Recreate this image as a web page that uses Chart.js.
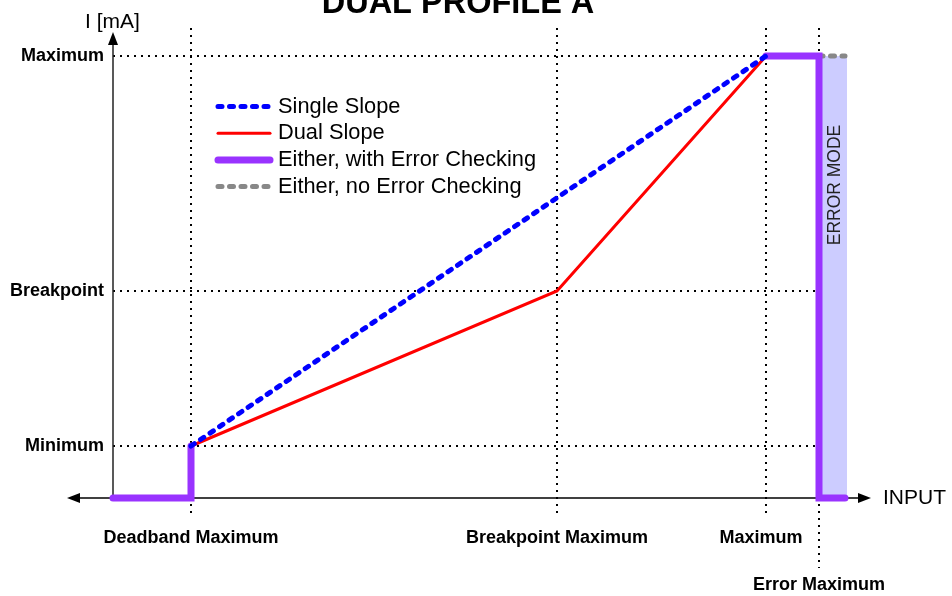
<!DOCTYPE html>
<html>
<head>
<meta charset="utf-8">
<script src="https://cdn.jsdelivr.net/npm/chart.js@4"></script>
<style>
  body { margin: 0; background: #fff; }
</style>
</head>
<body>
<canvas id="myChart" width="952" height="596"></canvas>
<script>
// input axis marks (x) and current axis marks (y)
const inputLabels = ['Deadband Maximum', 'Breakpoint Maximum', 'Maximum', 'Error Maximum'];
const inputValues = [7.8, 44.4, 65.3, 70.6];
const currentLabels = ['Minimum', 'Breakpoint', 'Maximum'];
const currentValues = [5.2, 20.7, 44.2];
const inputEnd = 73.2;

// series
const singleSlope = [{ x: 7.8, y: 5.2 }, { x: 65.3, y: 44.2 }];
const dualSlope = [{ x: 7.8, y: 5.2 }, { x: 44.4, y: 20.7 }, { x: 65.3, y: 44.2 }];
const withErrorCheck = [
  { x: 0, y: 0 }, { x: 7.8, y: 0 }, { x: 7.8, y: 5.2 },
  { x: 36, y: null },
  { x: 65.3, y: 44.2 }, { x: 70.6, y: 44.2 }, { x: 70.6, y: 0 }, { x: 73.2, y: 0 }
];
const noErrorCheck = [{ x: 70.6, y: 44.2 }, { x: 73.2, y: 44.2 }];
const errorMode = [{ x: 70.6, y: 44.2 }, { x: 73.4, y: 44.2 }];

const FONT = '"Liberation Sans", Arial, sans-serif';

function arrow(ctx, tx, ty, dx, dy) {
  // filled arrowhead, tip at (tx,ty), pointing along (dx,dy)
  const len = 13, half = 5;
  const bx = tx - dx * len, by = ty - dy * len;
  ctx.beginPath();
  ctx.moveTo(tx, ty);
  ctx.lineTo(bx - dy * half, by + dx * half);
  ctx.lineTo(bx + dy * half, by - dx * half);
  ctx.closePath();
  ctx.fill();
}

const diagram = {
  id: 'diagram',
  beforeDatasetsDraw(chart) {
    const { ctx, scales: { x, y } } = chart;
    ctx.save();
    // dotted guides
    ctx.strokeStyle = '#000';
    ctx.lineWidth = 2;
    ctx.setLineDash([2, 5]);
    inputValues.forEach((v, i) => {
      const px = Math.round(x.getPixelForValue(v));
      ctx.beginPath();
      ctx.moveTo(px, y.getPixelForValue(47));
      ctx.lineTo(px, y.getPixelForValue(i == 3 ? -7 : -1.6));
      ctx.stroke();
    });
    currentValues.forEach((v, i) => {
      const py = Math.round(y.getPixelForValue(v));
      const end = i == 2 ? inputValues[2] : inputEnd;
      ctx.beginPath();
      ctx.moveTo(x.getPixelForValue(0), py);
      ctx.lineTo(x.getPixelForValue(end), py);
      ctx.stroke();
    });
    ctx.setLineDash([]);

    // axes with arrows
    const y0 = y.getPixelForValue(0);
    const x0 = x.getPixelForValue(0);
    ctx.lineWidth = 1.5;
    ctx.strokeStyle = '#000';
    ctx.fillStyle = '#000';
    ctx.beginPath();
    ctx.moveTo(x.left + 8, y0);
    ctx.lineTo(x.right - 8, y0);
    ctx.stroke();
    arrow(ctx, x.left, y0, -1, 0);
    arrow(ctx, x.right, y0, 1, 0);
    ctx.strokeStyle = '#222';
    ctx.beginPath();
    ctx.moveTo(x0, y0);
    ctx.lineTo(x0, y.top + 8);
    ctx.stroke();
    arrow(ctx, x0, y.top, 0, -1);
    ctx.restore();
  },
  afterDraw(chart) {
    const { ctx, scales: { x, y } } = chart;
    ctx.save();
    ctx.fillStyle = '#000';

    // title
    ctx.font = 'bold 32.5px ' + FONT;
    ctx.textAlign = 'center';
    ctx.textBaseline = 'alphabetic';
    ctx.fillText('DUAL PROFILE A', 458, 13);

    // axis names
    ctx.font = '21px ' + FONT;
    ctx.textAlign = 'left';
    ctx.fillText('I [mA]', 85, 28);
    ctx.textBaseline = 'middle';
    ctx.fillText('INPUT', 883, y.getPixelForValue(0));

    // current tick labels
    ctx.font = 'bold 18px ' + FONT;
    ctx.textAlign = 'right';
    currentLabels.forEach((t, i) => {
      ctx.fillText(t, x.getPixelForValue(0) - 9, y.getPixelForValue(currentValues[i]));
    });

    // input tick labels
    ctx.textAlign = 'center';
    inputLabels.forEach((t, i) => {
      const px = x.getPixelForValue(inputValues[i]) - (i == 2 ? 5 : 0);
      ctx.fillText(t, px, i == 3 ? 585 : 538);
    });

    // error mode band label
    ctx.font = '17.5px ' + FONT;
    ctx.fillStyle = '#222';
    ctx.translate(835, y.getPixelForValue(31.3));
    ctx.rotate(-Math.PI / 2);
    ctx.fillText('ERROR MODE', 0, 0);
    ctx.setTransform(1, 0, 0, 1, 0, 0);

    // legend
    ctx.font = '21.8px ' + FONT;
    ctx.textAlign = 'left';
    ctx.fillStyle = '#000';
    chart.data.datasets.slice(0, 4).forEach((ds, i) => {
      const ly = 106.5 + i * 26.7;
      ctx.strokeStyle = ds.borderColor;
      ctx.lineWidth = ds.borderWidth;
      ctx.lineCap = 'round';
      ctx.setLineDash(ds.borderDash || []);
      ctx.beginPath();
      ctx.moveTo(218, ly);
      ctx.lineTo(270, ly);
      ctx.stroke();
      ctx.setLineDash([]);
      ctx.fillText(ds.label, 278, ly);
    });
    ctx.restore();
  }
};

const ctx = document.getElementById('myChart').getContext('2d');
const myChart = new Chart(ctx, {
  type: 'line',
  data: {
    datasets: [
      {
        label: 'Single Slope',
        data: singleSlope,
        borderColor: '#0000ff',
        borderWidth: 5,
        borderDash: [4, 7.5],
        borderCapStyle: 'round',
        order: 0
      },
      {
        label: 'Dual Slope',
        data: dualSlope,
        borderColor: '#ff0000',
        borderWidth: 3,
        order: 1
      },
      {
        label: 'Either, with Error Checking',
        data: withErrorCheck,
        borderColor: '#9933ff',
        borderWidth: 7,
        borderCapStyle: 'round',
        borderJoinStyle: 'miter',
        spanGaps: false,
        order: 2
      },
      {
        label: 'Either, no Error Checking',
        data: noErrorCheck,
        borderColor: '#888888',
        borderWidth: 5,
        borderDash: [4, 7.5],
        borderCapStyle: 'round',
        order: 3
      },
      {
        label: 'ERROR MODE',
        data: errorMode,
        borderWidth: 0,
        borderColor: 'rgba(0,0,0,0)',
        backgroundColor: '#ccccff',
        fill: 'origin',
        order: 4
      }
    ]
  },
  options: {
    responsive: false,
    animation: false,
    events: [],
    elements: { point: { radius: 0 }, line: { tension: 0 } },
    layout: { padding: { left: 67, right: 81, top: 32, bottom: 83 } },
    scales: {
      x: { type: 'linear', min: -4.6, max: 75.8, display: false },
      y: { type: 'linear', min: -1.5, max: 46.6, display: false }
    },
    plugins: {
      legend: { display: false },
      tooltip: { enabled: false }
    }
  },
  plugins: [diagram]
});
</script>
</body>
</html>
